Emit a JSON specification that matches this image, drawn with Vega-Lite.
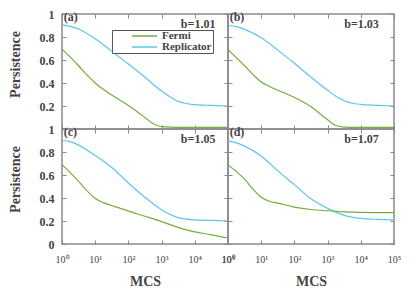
{
  "$schema": "https://vega.github.io/schema/vega-lite/v6.json",
  "background": "white",
  "padding": {"left": 7, "top": 7, "right": 5, "bottom": 0},
  "columns": 2,
  "spacing": 0,
  "bounds": "flush",
  "datasets": {
    "curves": [
      {"panel": "a", "model": "Replicator", "mcs": 1, "p": 0.905},
      {"panel": "a", "model": "Replicator", "mcs": 1.778, "p": 0.893},
      {"panel": "a", "model": "Replicator", "mcs": 3.162, "p": 0.87},
      {"panel": "a", "model": "Replicator", "mcs": 10, "p": 0.785},
      {"panel": "a", "model": "Replicator", "mcs": 31.62, "p": 0.675},
      {"panel": "a", "model": "Replicator", "mcs": 100, "p": 0.565},
      {"panel": "a", "model": "Replicator", "mcs": 316.2, "p": 0.45},
      {"panel": "a", "model": "Replicator", "mcs": 1000, "p": 0.33},
      {"panel": "a", "model": "Replicator", "mcs": 1778, "p": 0.28},
      {"panel": "a", "model": "Replicator", "mcs": 3162, "p": 0.24},
      {"panel": "a", "model": "Replicator", "mcs": 5623, "p": 0.222},
      {"panel": "a", "model": "Replicator", "mcs": 10000, "p": 0.212},
      {"panel": "a", "model": "Replicator", "mcs": 31623, "p": 0.205},
      {"panel": "a", "model": "Replicator", "mcs": 100000, "p": 0.2},
      {"panel": "a", "model": "Fermi", "mcs": 1, "p": 0.695},
      {"panel": "a", "model": "Fermi", "mcs": 1.778, "p": 0.625},
      {"panel": "a", "model": "Fermi", "mcs": 3.162, "p": 0.55},
      {"panel": "a", "model": "Fermi", "mcs": 5.623, "p": 0.47},
      {"panel": "a", "model": "Fermi", "mcs": 10, "p": 0.4},
      {"panel": "a", "model": "Fermi", "mcs": 31.62, "p": 0.295},
      {"panel": "a", "model": "Fermi", "mcs": 100, "p": 0.205},
      {"panel": "a", "model": "Fermi", "mcs": 316.2, "p": 0.1},
      {"panel": "a", "model": "Fermi", "mcs": 562.3, "p": 0.045},
      {"panel": "a", "model": "Fermi", "mcs": 1000, "p": 0.02},
      {"panel": "a", "model": "Fermi", "mcs": 3162, "p": 0.015},
      {"panel": "a", "model": "Fermi", "mcs": 100000, "p": 0.015},
      {"panel": "b", "model": "Replicator", "mcs": 1, "p": 0.9},
      {"panel": "b", "model": "Replicator", "mcs": 1.778, "p": 0.89},
      {"panel": "b", "model": "Replicator", "mcs": 3.162, "p": 0.866},
      {"panel": "b", "model": "Replicator", "mcs": 10, "p": 0.794},
      {"panel": "b", "model": "Replicator", "mcs": 31.62, "p": 0.686},
      {"panel": "b", "model": "Replicator", "mcs": 100, "p": 0.571},
      {"panel": "b", "model": "Replicator", "mcs": 316.2, "p": 0.451},
      {"panel": "b", "model": "Replicator", "mcs": 1000, "p": 0.337},
      {"panel": "b", "model": "Replicator", "mcs": 1778, "p": 0.285},
      {"panel": "b", "model": "Replicator", "mcs": 3162, "p": 0.246},
      {"panel": "b", "model": "Replicator", "mcs": 5623, "p": 0.224},
      {"panel": "b", "model": "Replicator", "mcs": 10000, "p": 0.214},
      {"panel": "b", "model": "Replicator", "mcs": 31623, "p": 0.206},
      {"panel": "b", "model": "Replicator", "mcs": 100000, "p": 0.2},
      {"panel": "b", "model": "Fermi", "mcs": 1, "p": 0.69},
      {"panel": "b", "model": "Fermi", "mcs": 1.778, "p": 0.62},
      {"panel": "b", "model": "Fermi", "mcs": 3.162, "p": 0.55},
      {"panel": "b", "model": "Fermi", "mcs": 5.623, "p": 0.475},
      {"panel": "b", "model": "Fermi", "mcs": 10, "p": 0.409},
      {"panel": "b", "model": "Fermi", "mcs": 17.78, "p": 0.37},
      {"panel": "b", "model": "Fermi", "mcs": 31.62, "p": 0.337},
      {"panel": "b", "model": "Fermi", "mcs": 100, "p": 0.274},
      {"panel": "b", "model": "Fermi", "mcs": 316.2, "p": 0.194},
      {"panel": "b", "model": "Fermi", "mcs": 1000, "p": 0.08},
      {"panel": "b", "model": "Fermi", "mcs": 1778, "p": 0.03},
      {"panel": "b", "model": "Fermi", "mcs": 3162, "p": 0.017},
      {"panel": "b", "model": "Fermi", "mcs": 10000, "p": 0.015},
      {"panel": "b", "model": "Fermi", "mcs": 100000, "p": 0.015},
      {"panel": "c", "model": "Replicator", "mcs": 1, "p": 0.9},
      {"panel": "c", "model": "Replicator", "mcs": 1.778, "p": 0.89},
      {"panel": "c", "model": "Replicator", "mcs": 3.162, "p": 0.86},
      {"panel": "c", "model": "Replicator", "mcs": 10, "p": 0.77},
      {"panel": "c", "model": "Replicator", "mcs": 31.62, "p": 0.665},
      {"panel": "c", "model": "Replicator", "mcs": 100, "p": 0.53},
      {"panel": "c", "model": "Replicator", "mcs": 316.2, "p": 0.405},
      {"panel": "c", "model": "Replicator", "mcs": 1000, "p": 0.298},
      {"panel": "c", "model": "Replicator", "mcs": 3162, "p": 0.23},
      {"panel": "c", "model": "Replicator", "mcs": 10000, "p": 0.21},
      {"panel": "c", "model": "Replicator", "mcs": 31623, "p": 0.205},
      {"panel": "c", "model": "Replicator", "mcs": 100000, "p": 0.2},
      {"panel": "c", "model": "Fermi", "mcs": 1, "p": 0.69},
      {"panel": "c", "model": "Fermi", "mcs": 1.778, "p": 0.62},
      {"panel": "c", "model": "Fermi", "mcs": 3.162, "p": 0.544},
      {"panel": "c", "model": "Fermi", "mcs": 5.623, "p": 0.464},
      {"panel": "c", "model": "Fermi", "mcs": 10, "p": 0.395},
      {"panel": "c", "model": "Fermi", "mcs": 17.78, "p": 0.36},
      {"panel": "c", "model": "Fermi", "mcs": 31.62, "p": 0.335},
      {"panel": "c", "model": "Fermi", "mcs": 100, "p": 0.286},
      {"panel": "c", "model": "Fermi", "mcs": 316.2, "p": 0.241},
      {"panel": "c", "model": "Fermi", "mcs": 1000, "p": 0.195},
      {"panel": "c", "model": "Fermi", "mcs": 3162, "p": 0.145},
      {"panel": "c", "model": "Fermi", "mcs": 10000, "p": 0.105},
      {"panel": "c", "model": "Fermi", "mcs": 31623, "p": 0.08},
      {"panel": "c", "model": "Fermi", "mcs": 100000, "p": 0.052},
      {"panel": "d", "model": "Replicator", "mcs": 1, "p": 0.894},
      {"panel": "d", "model": "Replicator", "mcs": 1.778, "p": 0.88},
      {"panel": "d", "model": "Replicator", "mcs": 3.162, "p": 0.851},
      {"panel": "d", "model": "Replicator", "mcs": 10, "p": 0.765},
      {"panel": "d", "model": "Replicator", "mcs": 31.62, "p": 0.636},
      {"panel": "d", "model": "Replicator", "mcs": 100, "p": 0.516},
      {"panel": "d", "model": "Replicator", "mcs": 316.2, "p": 0.393},
      {"panel": "d", "model": "Replicator", "mcs": 1000, "p": 0.31},
      {"panel": "d", "model": "Replicator", "mcs": 3162, "p": 0.249},
      {"panel": "d", "model": "Replicator", "mcs": 10000, "p": 0.222},
      {"panel": "d", "model": "Replicator", "mcs": 31623, "p": 0.214},
      {"panel": "d", "model": "Replicator", "mcs": 100000, "p": 0.21},
      {"panel": "d", "model": "Fermi", "mcs": 1, "p": 0.688},
      {"panel": "d", "model": "Fermi", "mcs": 1.778, "p": 0.63},
      {"panel": "d", "model": "Fermi", "mcs": 3.162, "p": 0.564},
      {"panel": "d", "model": "Fermi", "mcs": 5.623, "p": 0.478},
      {"panel": "d", "model": "Fermi", "mcs": 10, "p": 0.407},
      {"panel": "d", "model": "Fermi", "mcs": 17.78, "p": 0.372},
      {"panel": "d", "model": "Fermi", "mcs": 31.62, "p": 0.355},
      {"panel": "d", "model": "Fermi", "mcs": 100, "p": 0.321},
      {"panel": "d", "model": "Fermi", "mcs": 316.2, "p": 0.3},
      {"panel": "d", "model": "Fermi", "mcs": 1000, "p": 0.289},
      {"panel": "d", "model": "Fermi", "mcs": 3162, "p": 0.28},
      {"panel": "d", "model": "Fermi", "mcs": 10000, "p": 0.275},
      {"panel": "d", "model": "Fermi", "mcs": 100000, "p": 0.272}
    ],
    "labels": [
      {"panel": "a", "tag": "(a)", "bval": "b=1.01"},
      {"panel": "b", "tag": "(b)", "bval": "b=1.03"},
      {"panel": "c", "tag": "(c)", "bval": "b=1.05"},
      {"panel": "d", "tag": "(d)", "bval": "b=1.07"}
    ]
  },
  "data": {"name": "curves"},
  "config": {
    "view": {"stroke": "#8a8a8a", "strokeWidth": 1.5},
    "axis": {
      "domain": false, "grid": false, "tickColor": "#8a8a8a", "tickSize": -4, "tickWidth": 1,
      "labelFont": "Liberation Serif", "labelColor": "#444444",
      "titleFont": "Liberation Serif", "titleColor": "#444444", "titleFontWeight": "bold",
      "labelOverlap": false, "labelFlush": false, "labelBound": false
    },
    "legend": {
      "orient": "none", "legendX": 50, "legendY": 16, "title": null,
      "strokeColor": "#555555", "fillColor": "white", "padding": 1,
      "symbolType": "stroke", "symbolSize": 625, "symbolStrokeWidth": 1.5,
      "symbolOffset": 18, "labelOffset": 4, "labelAlign": "left",
      "labelFont": "Liberation Serif", "labelFontSize": 11, "labelFontWeight": "bold", "labelColor": "#444444",
      "rowPadding": 0, "clipHeight": 10
    },
    "text": {"font": "Liberation Serif", "fontWeight": "bold", "fontSize": 12, "color": "#444444"}
  },
  "concat": [
    {
      "width": 166, "height": 115,
      "resolve": {"axis": {"x": "independent", "y": "independent"}},
      "layer": [
        {
          "transform": [{"filter": "datum.panel == 'a'"}],
          "mark": {"type": "line", "strokeWidth": 1.2, "interpolate": "monotone"},
          "encoding": {
            "x": {"field": "mcs", "type": "quantitative", "scale": {"type": "log", "domain": [1, 100000]},
                  "axis": {"orient": "bottom", "values": [1, 10, 100, 1000, 10000, 100000], "labels": false, "title": null}},
            "y": {"field": "p", "type": "quantitative", "scale": {"domain": [0, 1]},
                  "axis": {"orient": "left", "values": [0, 0.2, 0.4, 0.6, 0.8, 1], "labelExpr": "datum.value == 0 ? '' : format(datum.value, '~g')",
                           "labelFontSize": 12, "labelFontWeight": "bold", "labelPadding": 12,
                           "title": "Persistence", "titleFontSize": 14, "titlePadding": 17, "titleY": 50}},
            "color": {"field": "model", "type": "nominal", "scale": {"domain": ["Fermi", "Replicator"], "range": ["#76ad3e", "#5ec4ec"]}}
          }
        },
        {
          "data": {"name": "labels"},
          "transform": [{"filter": "datum.panel == 'a'"}],
          "mark": {"type": "text", "align": "left", "baseline": "middle"},
          "encoding": {
            "x": {"datum": 1.12, "type": "quantitative", "axis": {"orient": "top", "values": [1, 10, 100, 1000, 10000, 100000], "labels": false, "title": null}},
            "y": {"datum": 0.97, "type": "quantitative", "axis": {"orient": "right", "values": [0, 0.2, 0.4, 0.6, 0.8, 1], "labels": false, "title": null}},
            "text": {"field": "tag"}
          }
        },
        {
          "data": {"name": "labels"},
          "transform": [{"filter": "datum.panel == 'a'"}],
          "mark": {"type": "text", "align": "right", "baseline": "middle"},
          "encoding": {
            "x": {"datum": 41700, "type": "quantitative", "axis": null},
            "y": {"datum": 0.91, "type": "quantitative", "axis": null},
            "text": {"field": "bval"}
          }
        }
      ]
    },
    {
      "width": 166, "height": 115,
      "resolve": {"axis": {"x": "independent", "y": "independent"}},
      "layer": [
        {
          "transform": [{"filter": "datum.panel == 'b'"}],
          "mark": {"type": "line", "strokeWidth": 1.2, "interpolate": "monotone"},
          "encoding": {
            "x": {"field": "mcs", "type": "quantitative", "scale": {"type": "log", "domain": [1, 100000]},
                  "axis": {"orient": "bottom", "values": [1, 10, 100, 1000, 10000, 100000], "labels": false, "title": null}},
            "y": {"field": "p", "type": "quantitative", "scale": {"domain": [0, 1]},
                  "axis": {"orient": "left", "values": [0, 0.2, 0.4, 0.6, 0.8, 1], "labels": false, "title": null}},
            "color": {"field": "model", "type": "nominal", "scale": {"domain": ["Fermi", "Replicator"], "range": ["#76ad3e", "#5ec4ec"]}}
          }
        },
        {
          "data": {"name": "labels"},
          "transform": [{"filter": "datum.panel == 'b'"}],
          "mark": {"type": "text", "align": "left", "baseline": "middle"},
          "encoding": {
            "x": {"datum": 1.12, "type": "quantitative", "axis": {"orient": "top", "values": [1, 10, 100, 1000, 10000, 100000], "labels": false, "title": null}},
            "y": {"datum": 0.97, "type": "quantitative", "axis": {"orient": "right", "values": [0, 0.2, 0.4, 0.6, 0.8, 1], "labels": false, "title": null}},
            "text": {"field": "tag"}
          }
        },
        {
          "data": {"name": "labels"},
          "transform": [{"filter": "datum.panel == 'b'"}],
          "mark": {"type": "text", "align": "right", "baseline": "middle"},
          "encoding": {
            "x": {"datum": 35000, "type": "quantitative", "axis": null},
            "y": {"datum": 0.91, "type": "quantitative", "axis": null},
            "text": {"field": "bval"}
          }
        }
      ]
    },
    {
      "width": 166, "height": 115,
      "resolve": {"axis": {"x": "independent", "y": "independent"}},
      "layer": [
        {
          "transform": [{"filter": "datum.panel == 'c'"}],
          "mark": {"type": "line", "strokeWidth": 1.2, "interpolate": "monotone"},
          "encoding": {
            "x": {"field": "mcs", "type": "quantitative", "scale": {"type": "log", "domain": [1, 100000]},
                  "axis": {"orient": "bottom", "values": [1, 10, 100, 1000, 10000, 100000],
                           "labelExpr": "'10' + ['⁰','¹','²','³','⁴','⁵'][round(log(datum.value)/LN10)]",
                           "labelFontSize": 10, "labelPadding": 14,
                           "title": "MCS", "titleFontSize": 14, "titlePadding": 10}},
            "y": {"field": "p", "type": "quantitative", "scale": {"domain": [0, 1]},
                  "axis": {"orient": "left", "values": [0, 0.2, 0.4, 0.6, 0.8, 1], "labelExpr": "format(datum.value, '~g')",
                           "labelFontSize": 12, "labelFontWeight": "bold", "labelPadding": 12,
                           "title": "Persistence", "titleFontSize": 14, "titlePadding": 17, "titleY": 50}},
            "color": {"field": "model", "type": "nominal", "scale": {"domain": ["Fermi", "Replicator"], "range": ["#76ad3e", "#5ec4ec"]}}
          }
        },
        {
          "data": {"name": "labels"},
          "transform": [{"filter": "datum.panel == 'c'"}],
          "mark": {"type": "text", "align": "left", "baseline": "middle"},
          "encoding": {
            "x": {"datum": 1.12, "type": "quantitative", "axis": {"orient": "top", "values": [1, 10, 100, 1000, 10000, 100000], "labels": false, "title": null}},
            "y": {"datum": 0.97, "type": "quantitative", "axis": {"orient": "right", "values": [0, 0.2, 0.4, 0.6, 0.8, 1], "labels": false, "title": null}},
            "text": {"field": "tag"}
          }
        },
        {
          "data": {"name": "labels"},
          "transform": [{"filter": "datum.panel == 'c'"}],
          "mark": {"type": "text", "align": "right", "baseline": "middle"},
          "encoding": {
            "x": {"datum": 41700, "type": "quantitative", "axis": null},
            "y": {"datum": 0.91, "type": "quantitative", "axis": null},
            "text": {"field": "bval"}
          }
        }
      ]
    },
    {
      "width": 166, "height": 115,
      "resolve": {"axis": {"x": "independent", "y": "independent"}},
      "layer": [
        {
          "transform": [{"filter": "datum.panel == 'd'"}],
          "mark": {"type": "line", "strokeWidth": 1.2, "interpolate": "monotone"},
          "encoding": {
            "x": {"field": "mcs", "type": "quantitative", "scale": {"type": "log", "domain": [1, 100000]},
                  "axis": {"orient": "bottom", "values": [1, 10, 100, 1000, 10000, 100000],
                           "labelExpr": "'10' + ['⁰','¹','²','³','⁴','⁵'][round(log(datum.value)/LN10)]",
                           "labelFontSize": 10, "labelPadding": 14,
                           "title": "MCS", "titleFontSize": 14, "titlePadding": 10}},
            "y": {"field": "p", "type": "quantitative", "scale": {"domain": [0, 1]},
                  "axis": {"orient": "left", "values": [0, 0.2, 0.4, 0.6, 0.8, 1], "labels": false, "title": null}},
            "color": {"field": "model", "type": "nominal", "scale": {"domain": ["Fermi", "Replicator"], "range": ["#76ad3e", "#5ec4ec"]}}
          }
        },
        {
          "data": {"name": "labels"},
          "transform": [{"filter": "datum.panel == 'd'"}],
          "mark": {"type": "text", "align": "left", "baseline": "middle"},
          "encoding": {
            "x": {"datum": 1.12, "type": "quantitative", "axis": {"orient": "top", "values": [1, 10, 100, 1000, 10000, 100000], "labels": false, "title": null}},
            "y": {"datum": 0.97, "type": "quantitative", "axis": {"orient": "right", "values": [0, 0.2, 0.4, 0.6, 0.8, 1], "labels": false, "title": null}},
            "text": {"field": "tag"}
          }
        },
        {
          "data": {"name": "labels"},
          "transform": [{"filter": "datum.panel == 'd'"}],
          "mark": {"type": "text", "align": "right", "baseline": "middle"},
          "encoding": {
            "x": {"datum": 35000, "type": "quantitative", "axis": null},
            "y": {"datum": 0.91, "type": "quantitative", "axis": null},
            "text": {"field": "bval"}
          }
        }
      ]
    }
  ]
}
